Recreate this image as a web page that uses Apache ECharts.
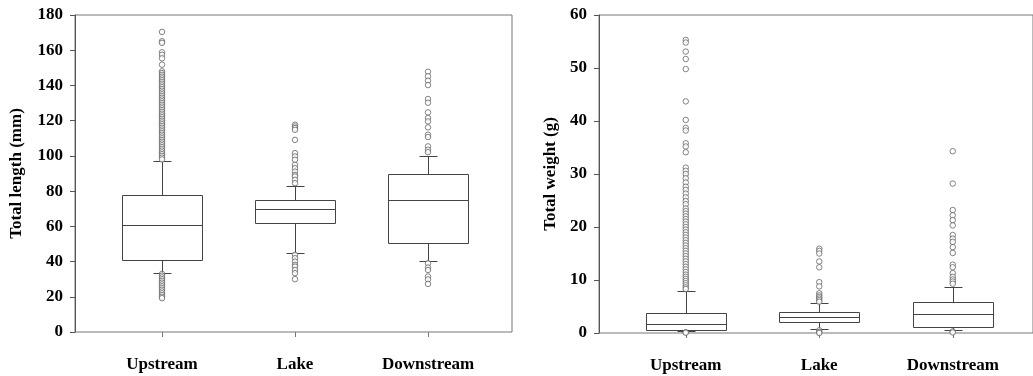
<!DOCTYPE html>
<html>
<head>
<meta charset="utf-8">
<script src="https://cdn.jsdelivr.net/npm/echarts@6/dist/echarts.min.js"></script>
<style>
    html, body { margin: 0; padding: 0; background: #fff; }
    #main { width: 1033px; height: 376px; }
</style>
</head>
<body>
<div id="main"></div>
<script>
// 分组
const categories = ["Upstream", "Lake", "Downstream"];

// 体长 (mm): [下须, Q1, 中位数, Q3, 上须]
const lengthBoxes = [
    [33.7, 41, 60.6, 78, 97],
    [44.7, 62, 70.1, 75, 83],
    [40.2, 50.6, 75, 89.8, 100]
];
// 体长异常值
const lengthOutliers = [
    [170.4, 165.1, 164.2, 158.8, 157.4, 155.4, 151.8, 148, 147, 146, 145, 144, 143, 142, 141, 140,
        139, 138, 137, 136, 135, 134, 133, 132, 131, 130, 129, 128, 127, 126, 125, 124, 123, 122, 121,
        120, 119, 118, 117, 116, 115, 114, 113, 112, 111, 110, 109, 108, 107, 106, 105, 104, 103, 102,
        101, 100, 99, 98,
        33, 32, 31, 30, 29, 28, 27, 26, 25, 24, 23, 22, 21, 20, 19.2],
    [117.7, 116.7, 115.8, 114.8, 109.1, 101.6, 99.7, 97.8, 94.9, 93, 91.1, 89.2, 88.3, 86.4, 84.5,
        43.8, 41.9, 40, 38.1, 37.1, 35.2, 33.4, 30],
    [147.8, 145.2, 142.7, 140.2, 132.3, 130.2, 124.7, 121.5, 119.6, 116.2, 112, 110.7, 105.4, 103.5, 102.1,
        39, 36.6, 35.2, 31.5, 29.9, 27.3]
];

// 体重 (g): [下须, Q1, 中位数, Q3, 上须]
const weightBoxes = [
    [0.3, 0.5, 1.64, 3.78, 8],
    [0.8, 2.14, 3.09, 4.03, 5.6],
    [0.63, 1.13, 3.53, 5.9, 8.6]
];
// 体重异常值
const weightOutliers = [
    [55.3, 54.8, 53.1, 51.7, 49.8, 43.7, 40.2, 38.7, 38.2, 35.8, 35.2, 34.1, 31.2, 30.6, 30, 29.2,
        28.4, 27.6, 27, 26.3, 25.6, 24.9, 24.3, 23.5, 23, 22.5, 22, 21.5, 21, 20.5, 20, 19.5, 19, 18.5,
        18, 17.5, 17, 16.5, 16, 15.5, 15, 14.5, 14, 13.5, 13, 12.5, 12, 11.5, 11, 10.6, 10.2, 9.8, 9.4,
        9, 8.6, 8.3, 0.15, 0.05],
    [15.9, 15.5, 15, 13.5, 12.4, 9.6, 8.8, 7.5, 7.1, 6.8, 6.5, 6.2, 5.9, 0.5, 0.2, 0],
    [34.3, 28.2, 23.2, 22.2, 21.3, 20.3, 18.5, 17.8, 17.2, 16.2, 15.1, 12.9, 12.4, 11.3, 10.6, 10.1,
        9.7, 9.3, 0.3, 0.1]
];

const FONT = "'Liberation Serif', 'Times New Roman', serif";
const LINE = "#444";
const BOX_W = 80;
const CAP_W = 18;

function px(v) {
    return Math.round(v) + 0.5;
}

// 自定义箱线图（短须帽）
function renderBox(params, api) {
    const idx = api.value(0);
    const x = px(api.coord([idx, 0])[0]);
    const yLow = px(api.coord([idx, api.value(1)])[1]);
    const yQ1 = px(api.coord([idx, api.value(2)])[1]);
    const yMed = px(api.coord([idx, api.value(3)])[1]);
    const yQ3 = px(api.coord([idx, api.value(4)])[1]);
    const yHigh = px(api.coord([idx, api.value(5)])[1]);
    const half = BOX_W / 2;
    const cap = CAP_W / 2;
    const style = {stroke: LINE, lineWidth: 1, fill: null};
    return {
        type: "group",
        children: [
            {type: "line", shape: {x1: x, y1: yQ3, x2: x, y2: yHigh}, style: style},
            {type: "line", shape: {x1: x, y1: yQ1, x2: x, y2: yLow}, style: style},
            {type: "line", shape: {x1: x - cap, y1: yHigh, x2: x + cap, y2: yHigh}, style: style},
            {type: "line", shape: {x1: x - cap, y1: yLow, x2: x + cap, y2: yLow}, style: style},
            {type: "rect", shape: {x: x - half, y: yQ3, width: BOX_W, height: yQ1 - yQ3}, style: {stroke: LINE, lineWidth: 1, fill: "#fff"}},
            {type: "line", shape: {x1: x - half, y1: yMed, x2: x + half, y2: yMed}, style: style}
        ]
    };
}

function boxData(boxes) {
    return boxes.map((b, i) => [i].concat(b));
}

function outlierData(outliers) {
    let out = [];
    outliers.forEach((list, i) => {
        list.forEach(v => out.push([i, v]));
    });
    return out;
}

const panels = [
    {
        outer: {left: 75, right: 521, top: 15, bottom: 44},
        inner: {left: 95.5, right: 538.5, top: 15, bottom: 44},
        max: 180, interval: 20, name: "Total length (mm)", nameGap: 50,
        boxes: lengthBoxes, outliers: lengthOutliers
    },
    {
        outer: {left: 599, right: -2, top: 15, bottom: 43},
        inner: {left: 619, right: 13.5, top: 15, bottom: 43},
        max: 60, interval: 10, name: "Total weight (g)", nameGap: 40,
        boxes: weightBoxes, outliers: weightOutliers
    }
];

let grid = [], xAxis = [], yAxis = [], series = [];
panels.forEach((p, k) => {
    const gOuter = k * 2;
    const gInner = k * 2 + 1;
    grid.push(Object.assign({show: true, borderColor: "#777", borderWidth: 1, backgroundColor: "transparent"}, p.outer));
    grid.push(Object.assign({show: false}, p.inner));
    // 外框坐标轴
    xAxis.push({gridIndex: gOuter, type: "value", show: false, min: 0, max: 1});
    yAxis.push({
        gridIndex: gOuter, type: "value", min: 0, max: p.max, interval: p.interval,
        name: p.name, nameLocation: "middle", nameRotate: 90, nameGap: p.nameGap,
        nameTextStyle: {fontFamily: FONT, fontWeight: "bold", fontSize: 17, color: "#000"},
        axisLine: {show: true, lineStyle: {color: "#555"}},
        axisTick: {show: true, length: 5, lineStyle: {color: "#555"}},
        axisLabel: {fontFamily: FONT, fontWeight: "bold", fontSize: 17, color: "#000", margin: 12},
        splitLine: {show: false}
    });
    // 内部分类轴
    xAxis.push({
        gridIndex: gInner, type: "category", data: categories, boundaryGap: true,
        axisLine: {show: false},
        axisTick: {show: true, alignWithLabel: true, length: 5, lineStyle: {color: "#777"}},
        axisLabel: {fontFamily: FONT, fontWeight: "bold", fontSize: 17, color: "#000", margin: 24}
    });
    yAxis.push({gridIndex: gInner, type: "value", show: false, min: 0, max: p.max, splitLine: {show: false}});
    series.push({
        type: "custom",
        xAxisIndex: gInner, yAxisIndex: gInner,
        renderItem: renderBox,
        encode: {x: 0, y: [1, 2, 3, 4, 5]},
        data: boxData(p.boxes),
        z: 2
    });
    series.push({
        type: "scatter",
        xAxisIndex: gInner, yAxisIndex: gInner,
        symbol: "circle",
        symbolSize: 5.5,
        itemStyle: {color: "#fff", borderColor: "#555", borderWidth: 0.9},
        data: outlierData(p.outliers),
        z: 3
    });
});

let chart = echarts.init(document.getElementById("main"));
chart.setOption({
    animation: false,
    backgroundColor: "#fff",
    grid: grid,
    xAxis: xAxis,
    yAxis: yAxis,
    series: series
});
</script>
</body>
</html>
